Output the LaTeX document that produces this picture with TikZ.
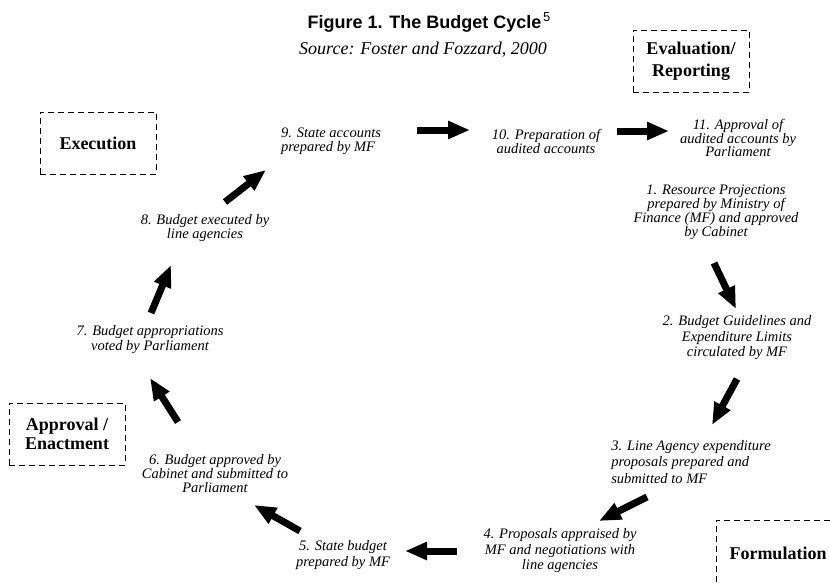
\documentclass[tikz,border=0pt]{standalone}
\usepackage{fontspec}
\setmainfont{Liberation Serif}
\newfontfamily\headfont{Liberation Sans}
\usetikzlibrary{arrows.meta, positioning}
\tikzstyle{arrow} = [line width=7pt,-{Triangle[length=22pt,width=17pt]}]
\tikzstyle{stage}=[font=\itshape\fontsize{14.5}{14}\selectfont,align=center,inner sep=0pt]
\tikzstyle{phase}=[draw=black,line width=1pt,dash pattern=on 6pt off 4pt,minimum width=116pt,minimum height=62pt,font=\bfseries\fontsize{18}{22}\selectfont,align=center]

\begin{document}
\begin{tikzpicture}[x=1pt,y=-1pt]
    \useasboundingbox (0,0) rectangle (830,582);

    % title
    \node (title) at (429,22) {{\headfont\bfseries\fontsize{18}{20}\selectfont Figure 1. The Budget Cycle}\,\raisebox{7pt}{\headfont\fontsize{13}{13}\selectfont 5}};
    \node[font=\itshape\fontsize{18}{20}\selectfont] (source) at (423,50) {Source: Foster and Fozzard, 2000};

    % phases
    \node[phase] (eval) at (691,61) {Evaluation/\\Reporting};
    \node[phase] (exec) at (98,143) {Execution};
    \node[phase,font=\bfseries\fontsize{18}{18.5}\selectfont] (appr) at (67,434) {Approval /\\Enactment};
    \node[phase,minimum width=124pt,minimum height=66pt] (form) at (778,553) {Formulation};

    % stages
    \node[stage] (s1) at (716,212) {1. Resource Projections\\prepared by Ministry of\\Finance (MF) and approved\\by Cabinet};
    \node[stage,font=\itshape\fontsize{14.5}{15.5}\selectfont] (s2) at (737,338) {2. Budget Guidelines and\\Expenditure Limits\\circulated by MF};
    \node[stage,align=left,font=\itshape\fontsize{14.5}{16.5}\selectfont] (s3) at (691,462) {3. Line Agency expenditure\\proposals prepared and\\submitted to MF};
    \node[stage,font=\itshape\fontsize{14.5}{15.5}\selectfont] (s4) at (560,551) {4. Proposals appraised by\\MF and negotiations with\\line agencies};
    \node[stage,font=\itshape\fontsize{14.5}{16.5}\selectfont] (s5) at (343,555) {5. State budget\\prepared by MF};
    \node[stage] (s6) at (215,474) {6. Budget approved by\\Cabinet and submitted to\\Parliament};
    \node[stage,font=\itshape\fontsize{14.5}{15}\selectfont] (s7) at (150,340) {7. Budget appropriations\\voted by Parliament};
    \node[stage,font=\itshape\fontsize{14.5}{13.5}\selectfont] (s8) at (205,228) {8. Budget executed by\\line agencies};
    \node[stage,align=left] (s9) at (331,141) {9. State accounts\\prepared by MF};
    \node[stage] (s10) at (546,141) {10. Preparation of\\audited accounts};
    \node[stage,font=\itshape\fontsize{14.5}{13.5}\selectfont] (s11) at (738,138) {11. Approval of\\audited accounts by\\Parliament};

    % cycle
    \draw[arrow] ([shift={(-2,51)}]s1.center) -- ([shift={(-1,-29)}]s2.center);
    \draw[arrow] ([shift={(0,41)}]s2.center) -- ([shift={(21,-37)}]s3.center);
    \draw[arrow] ([shift={(-44,35)}]s3.center) -- ([shift={(39,-30)}]s4.center);
    \draw[arrow] ([shift={(-103,0)}]s4.center) -- ([shift={(62,-4)}]s5.center);
    \draw[arrow] ([shift={(-43,-24)}]s5.center) -- ([shift={(39,31)}]s6.center);
    \draw[arrow] ([shift={(-37,-52)}]s6.center) -- ([shift={(0,38)}]s7.center);
    \draw[arrow] ([shift={(1,-27)}]s7.center) -- ([shift={(-34,37)}]s8.center);
    \draw[arrow] ([shift={(20,-26)}]s8.center) -- ([shift={(-65,29)}]s9.center);
    \draw[arrow] ([shift={(86,-11)}]s9.center) -- ([shift={(-76,-11)}]s10.center);
    \draw[arrow] ([shift={(71,-10)}]s10.center) -- ([shift={(-69,-7)}]s11.center);
\end{tikzpicture}
\end{document}
